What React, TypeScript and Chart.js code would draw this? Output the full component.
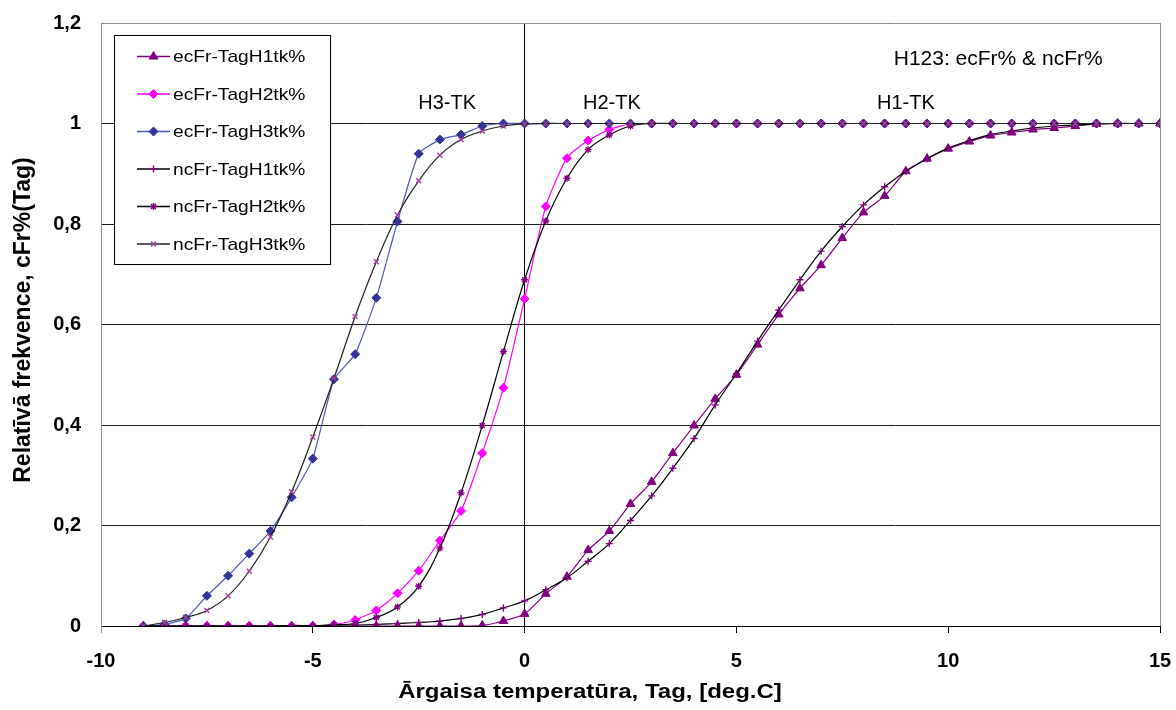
import React, { useEffect, useRef } from 'react';
import { Chart, registerables } from 'chart.js';
import * as helpers from 'chart.js/helpers';

Chart.register(...registerables);

// ---- data ----
const temps = [-9, -8.5, -8, -7.5, -7, -6.5, -6, -5.5, -5, -4.5, -4, -3.5, -3, -2.5, -2, -1.5, -1, -0.5,
  0, 0.5, 1, 1.5, 2, 2.5, 3, 3.5, 4, 4.5, 5, 5.5, 6, 6.5, 7, 7.5, 8, 8.5, 9, 9.5, 10, 10.5, 11, 11.5,
  12, 12.5, 13, 13.5, 14, 14.5, 15];

const ecFrH1 = [0, 0, 0, 0, 0, 0, 0, 0, 0, 0, 0, 0, 0, 0, 0, 0, 0.001, 0.01,
  0.024, 0.064, 0.098, 0.151, 0.189, 0.243, 0.287, 0.344, 0.399, 0.452, 0.5, 0.56, 0.62, 0.672, 0.718,
  0.772, 0.823, 0.856, 0.905, 0.93, 0.95, 0.964, 0.976, 0.982, 0.988, 0.991, 0.995, 0.999, 1, 1, 1];

const ecFrH2 = [0, 0, 0, 0, 0, 0, 0, 0, 0, 0.003, 0.012, 0.031, 0.065, 0.11, 0.17, 0.229, 0.344, 0.474,
  0.651, 0.835, 0.931, 0.966, 0.988, 0.999, 1, 1, 1, 1, 1, 1, 1, 1, 1, 1, 1, 1, 1, 1, 1, 1, 1, 1,
  1, 1, 1, 1, 1, 1, 1];

const ecFrH3 = [0, 0.003, 0.015, 0.06, 0.1, 0.144, 0.189, 0.256, 0.333, 0.491, 0.541, 0.653, 0.805, 0.94,
  0.968, 0.978, 0.995, 1, 1, 1, 1, 1, 1, 1, 1, 1, 1, 1, 1, 1, 1, 1, 1, 1, 1, 1, 1, 1, 1, 1, 1, 1,
  1, 1, 1, 1, 1, 1, 1];

const ncFrH1 = [0, 0, 0, 0, 0, 0, 0, 0.001, 0.001, 0.002, 0.002, 0.003, 0.005, 0.007, 0.01, 0.015, 0.023, 0.036,
  0.05, 0.072, 0.096, 0.129, 0.164, 0.21, 0.259, 0.314, 0.373, 0.44, 0.502, 0.567, 0.629, 0.689, 0.746,
  0.795, 0.838, 0.874, 0.905, 0.93, 0.951, 0.966, 0.978, 0.985, 0.991, 0.995, 0.997, 0.999, 1, 1, 1];

const ncFrH2 = [0, 0, 0, 0, 0, 0, 0, 0, 0, 0.002, 0.005, 0.017, 0.038, 0.079, 0.155, 0.265, 0.399, 0.546,
  0.689, 0.806, 0.891, 0.948, 0.977, 0.995, 1, 1, 1, 1, 1, 1, 1, 1, 1, 1, 1, 1, 1, 1, 1, 1, 1, 1,
  1, 1, 1, 1, 1, 1, 1];

const ncFrH3 = [0, 0.007, 0.017, 0.031, 0.06, 0.109, 0.177, 0.267, 0.376, 0.493, 0.616, 0.725, 0.818, 0.886,
  0.937, 0.968, 0.985, 0.995, 0.999, 1, 1, 1, 1, 1, 1, 1, 1, 1, 1, 1, 1, 1, 1, 1, 1, 1, 1, 1, 1, 1,
  1, 1, 1, 1, 1, 1, 1, 1, 1];

const seriesLabels = ['ecFr-TagH1tk%', 'ecFr-TagH2tk%', 'ecFr-TagH3tk%', 'ncFr-TagH1tk%', 'ncFr-TagH2tk%', 'ncFr-TagH3tk%'];

const annotationTexts = ['H3-TK', 'H2-TK', 'H1-TK', 'H123: ecFr% & ncFr%'];
const annotationX = [-1.83, 2.06, 9.0, 11.18];
const annotationY = [1.04, 1.04, 1.04, 1.127];

const xTitle = 'Ārgaisa temperatūra, Tag, [deg.C]';
const yTitle = 'Relatīvā frekvence, cFr%(Tag)';

const FONT = '"Liberation Sans", Arial, Helvetica, sans-serif';

function pts(values: number[]) {
  return temps.map((t, i) => ({ x: t, y: values[i] }));
}

const seriesValues = [ecFrH1, ecFrH2, ecFrH3, ncFrH1, ncFrH2, ncFrH3];
const lineColors = ['#800080', '#FF00FF', '#4A58B8', '#000000', '#000000', '#202020'];
const markerColors = ['#800080', '#FF00FF', '#333399', '#800080', '#800080', '#A040A0'];
const markerStyles = ['triangle', 'rectRot', 'rectRot', 'cross', 'star', 'crossRot'];
const markerRadius = [5, 4.5, 4.5, 3.5, 3.5, 3.5];
const tensions = [0.2, 0.2, 0.15, 0.4, 0.4, 0.4];

const overlayPlugin = {
  id: 'overlay',
  afterDraw(chart: any) {
    const ctx = chart.ctx as CanvasRenderingContext2D;
    const xs = chart.scales.x;
    const ys = chart.scales.y;
    ctx.save();
    // annotations
    ctx.fillStyle = '#000';
    ctx.textAlign = 'center';
    ctx.textBaseline = 'middle';
    annotationTexts.forEach((t, i) => {
      ctx.font = (i === 3 ? '21px ' : '20px ') + FONT;
      ctx.fillText(t, xs.getPixelForValue(annotationX[i]), ys.getPixelForValue(annotationY[i]));
    });

    // x title (slightly stretched like the source)
    ctx.save();
    ctx.font = 'bold 20px ' + FONT;
    ctx.translate(590, 692);
    ctx.scale(1.2, 1);
    ctx.fillText(xTitle, 0, 0);
    ctx.restore();

    // y title
    ctx.save();
    ctx.font = 'bold 23px ' + FONT;
    ctx.translate(24, 320);
    ctx.rotate(-Math.PI / 2);
    ctx.fillText(yTitle, 0, 0);
    ctx.restore();

    // legend box
    const bx = 114, by = 35, bw = 216, bh = 229;
    ctx.fillStyle = '#fff';
    ctx.fillRect(bx, by, bw, bh);
    ctx.strokeStyle = '#000';
    ctx.lineWidth = 1;
    ctx.strokeRect(bx + 0.5, by + 0.5, bw, bh);
    chart.data.datasets.forEach((ds: any, i: number) => {
      const cy = 56.5 + i * 37.5;
      ctx.strokeStyle = ds.borderColor;
      ctx.lineWidth = 1.3;
      ctx.beginPath();
      ctx.moveTo(137, cy);
      ctx.lineTo(170, cy);
      ctx.stroke();
      ctx.fillStyle = ds.pointBackgroundColor;
      ctx.strokeStyle = ds.pointBorderColor;
      ctx.lineWidth = ds.pointBorderWidth;
      helpers.drawPoint(ctx, {
        pointStyle: ds.pointStyle,
        radius: ds.pointRadius,
        borderWidth: ds.pointBorderWidth,
        rotation: 0,
      } as any, 153.5, cy);
      ctx.save();
      ctx.fillStyle = '#000';
      ctx.textAlign = 'left';
      ctx.textBaseline = 'middle';
      ctx.font = '17px ' + FONT;
      ctx.translate(173, cy + 1);
      ctx.scale(1.13, 1);
      ctx.fillText(ds.label, 0, 0);
      ctx.restore();
    });
    ctx.restore();
  },
};

function zeroPad(s: any) {
  s.paddingTop = 0;
  s.paddingBottom = 0;
  s.paddingLeft = 0;
  s.paddingRight = 0;
}

export default function App() {
  const ref = useRef<HTMLCanvasElement | null>(null);

  useEffect(() => {
    if (!ref.current) return;
    const datasets = seriesLabels.map((label, i) => ({
      label,
      data: pts(seriesValues[i]),
      borderColor: lineColors[i],
      backgroundColor: markerColors[i],
      pointBackgroundColor: markerColors[i],
      pointBorderColor: markerColors[i],
      pointBorderWidth: i >= 3 ? 1.4 : 1,
      pointStyle: markerStyles[i],
      pointRadius: markerRadius[i],
      borderWidth: 1.2,
      tension: tensions[i],
      fill: false,
      order: 5 - i,
    }));

    const chart = new Chart(ref.current, {
      type: 'line',
      data: { datasets },
      plugins: [overlayPlugin],
      options: {
        animation: false,
        responsive: false,
        devicePixelRatio: 1,
        events: [],
        layout: { padding: { top: 23, right: 16, left: 0, bottom: 0 } },
        plugins: {
          legend: { display: false },
          tooltip: { enabled: false },
          title: { display: false },
        },
        scales: {
          x: {
            type: 'linear',
            min: -10,
            max: 15,
            ticks: {
              stepSize: 5,
              color: '#000',
              font: { family: FONT, size: 20, weight: 'bold' },
              padding: 16,
              maxRotation: 0,
            },
            grid: {
              color: (c: any) => {
                const v = c.tick ? c.tick.value : null;
                if (v === 0) return '#000';
                if (v === -10 || v === 15) return '#8c8c8c';
                return 'rgba(0,0,0,0)';
              },
              tickColor: (c: any) => (c.tick && c.tick.value === -10 ? '#8c8c8c' : '#000'),
              tickLength: 7,
              lineWidth: 1,
              drawTicks: true,
            },
            border: { display: true, color: '#000', width: 1 },
            afterFit: (s: any) => { s.height = 84; zeroPad(s); },
          },
          y: {
            type: 'linear',
            min: 0,
            max: 1.2,
            ticks: {
              stepSize: 0.2,
              color: '#000',
              font: { family: FONT, size: 20, weight: 'bold' },
              padding: 20,
              callback: (v: any) => String(Math.round(Number(v) * 10) / 10).replace('.', ','),
            },
            grid: {
              color: (c: any) => {
                const v = c.tick ? Math.round(c.tick.value * 10) / 10 : null;
                if (v === 1.2) return '#8c8c8c';
                return '#1a1a1a';
              },
              lineWidth: 1,
              drawTicks: false,
            },
            border: { display: true, color: '#8c8c8c', width: 1 },
            afterFit: (s: any) => { s.width = 101; zeroPad(s); },
          },
        },
      },
    } as any);
    return () => chart.destroy();
  }, []);

  return (
    <div style={{ position: 'absolute', left: 0, top: 0, width: 1176, height: 710, background: '#fff' }}>
      <canvas ref={ref} width={1176} height={710} style={{ display: 'block' }} />
    </div>
  );
}
